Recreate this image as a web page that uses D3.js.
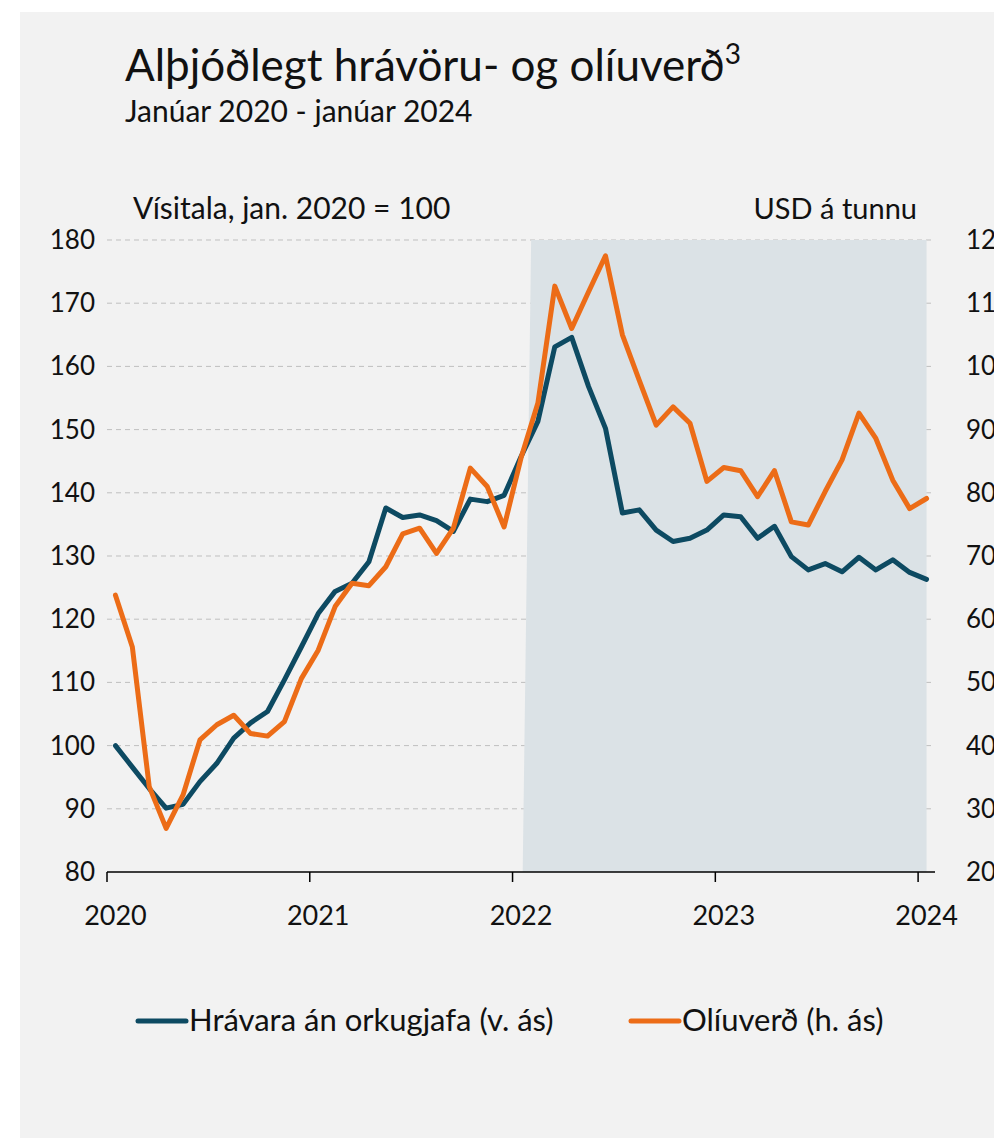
<!DOCTYPE html>
<html>
<head>
<meta charset="utf-8">
<script src="https://cdn.jsdelivr.net/npm/d3@7"></script>
<style>
  html, body { margin: 0; padding: 0; background: #ffffff; }
  svg { display: block; font-family: Lato, "Open Sans", sans-serif; }
</style>
</head>
<body>
<svg id="chart" width="994" height="1138"></svg>
<script>
// monthly, jan 2020 .. jan 2024
const yearLabels = ['2020', '2021', '2022', '2023', '2024'];
const leftTicks = [80, 90, 100, 110, 120, 130, 140, 150, 160, 170, 180];
const rightTicks = [20, 30, 40, 50, 60, 70, 80, 90, 100, 110, 120];

// Hrávara án orkugjafa, vísitala jan. 2020 = 100 (left axis)
const commodityIdx = [
  100.0, 96.6, 93.2, 90.1, 90.7, 94.3, 97.2, 101.2, 103.6, 105.4, 110.4, 115.6,
  120.9, 124.4, 125.7, 129.1, 137.6, 136.1, 136.5, 135.6, 133.9, 139.0, 138.6, 139.6,
  145.7, 151.3, 163.1, 164.6, 156.8, 150.2, 136.8, 137.3, 134.1, 132.3, 132.8, 134.1,
  136.5, 136.2, 132.8, 134.7, 129.9, 127.8, 128.8, 127.5, 129.8, 127.8, 129.4, 127.4,
  126.3
];

// Olíuverð, USD á tunnu (right axis)
const oilPrice = [
  63.8, 55.6, 33.5, 26.9, 32.2, 40.9, 43.3, 44.8, 41.9, 41.5, 43.8, 50.6,
  55.1, 62.0, 65.7, 65.3, 68.3, 73.5, 74.4, 70.4, 74.4, 83.9, 81.0, 74.6,
  85.5, 94.2, 112.7, 106.0, 111.8, 117.5, 105.0, 97.8, 90.7, 93.6, 91.0, 81.8,
  84.0, 83.5, 79.4, 83.5, 75.4, 74.9, 80.2, 85.2, 92.6, 88.6, 82.0, 77.5,
  79.1
];

// shaded period (right-axis units, clipped to plot)
const shadeValues = commodityIdx.map((_, i) => (i < 25 ? 0 : 200));

const months = commodityIdx.map((_, i) => i);

const plot = { left: 107, right: 935, top: 240, bottom: 872 };
const colors = { commodity: '#0d4a62', oil: '#ec6c17', shade: '#dbe2e6', grid: '#bfbfbf' };

const svg = d3.select('#chart');

svg.append('rect')
  .attr('x', 20).attr('y', 12)
  .attr('width', 974).attr('height', 1126)
  .attr('fill', '#f2f2f2');

const x = d3.scalePoint()
  .domain(months)
  .range([plot.left, plot.right])
  .padding(0.5);
const step = x.step();
const yL = d3.scaleLinear().domain([80, 180]).range([plot.bottom, plot.top]);
const yR = d3.scaleLinear().domain([20, 120]).range([plot.bottom, plot.top]);

svg.append('defs').append('clipPath').attr('id', 'plot-clip')
  .append('rect')
  .attr('x', plot.left).attr('y', plot.top)
  .attr('width', plot.right - plot.left).attr('height', plot.bottom - plot.top);

// gridlines
svg.append('g')
  .selectAll('line')
  .data(leftTicks.filter((d) => d > 80))
  .join('line')
  .attr('x1', plot.left).attr('x2', plot.right)
  .attr('y1', (d) => yL(d)).attr('y2', (d) => yL(d))
  .attr('stroke', colors.grid)
  .attr('stroke-width', 1)
  .attr('stroke-dasharray', '5,4');

// shaded area
const shadeData = months.filter((i) => i >= 24);
svg.append('path')
  .datum(shadeData)
  .attr('clip-path', 'url(#plot-clip)')
  .attr('fill', colors.shade)
  .attr('d', d3.area()
    .x((i) => x(i))
    .y0(plot.bottom + 10)
    .y1((i) => yR(shadeValues[i])));

// x axis
const xAxis = svg.append('g');
xAxis.append('line')
  .attr('x1', plot.left).attr('x2', plot.right)
  .attr('y1', plot.bottom).attr('y2', plot.bottom)
  .attr('stroke', '#000').attr('stroke-width', 1.5);

const yearStarts = yearLabels.map((_, k) => k * 12);
xAxis.selectAll('line.tick')
  .data(yearStarts)
  .join('line')
  .attr('class', 'tick')
  .attr('x1', (i) => x(i) - step / 2).attr('x2', (i) => x(i) - step / 2)
  .attr('y1', plot.bottom).attr('y2', plot.bottom + 10)
  .attr('stroke', '#000').attr('stroke-width', 1.5);

xAxis.selectAll('text')
  .data(yearStarts)
  .join('text')
  .attr('x', (i) => x(i))
  .attr('y', plot.bottom + 53)
  .attr('text-anchor', 'middle')
  .attr('font-size', 27)
  .attr('fill', '#111')
  .text((_, k) => yearLabels[k]);

// y axes labels
svg.append('g')
  .selectAll('text')
  .data(leftTicks)
  .join('text')
  .attr('x', 95)
  .attr('y', (d) => yL(d) + 9)
  .attr('text-anchor', 'end')
  .attr('font-size', 26)
  .attr('fill', '#111')
  .text((d) => d);

svg.append('g')
  .selectAll('text')
  .data(rightTicks)
  .join('text')
  .attr('x', 966)
  .attr('y', (d) => yR(d) + 9)
  .attr('text-anchor', 'start')
  .attr('font-size', 26)
  .attr('fill', '#111')
  .text((d) => d);

// lines
const lineL = d3.line().x((d, i) => x(i)).y((d) => yL(d));
const lineR = d3.line().x((d, i) => x(i)).y((d) => yR(d));

svg.append('path')
  .datum(commodityIdx)
  .attr('fill', 'none')
  .attr('stroke', colors.commodity)
  .attr('stroke-width', 5)
  .attr('stroke-linejoin', 'round')
  .attr('stroke-linecap', 'round')
  .attr('d', lineL);

svg.append('path')
  .datum(oilPrice)
  .attr('fill', 'none')
  .attr('stroke', colors.oil)
  .attr('stroke-width', 5)
  .attr('stroke-linejoin', 'round')
  .attr('stroke-linecap', 'round')
  .attr('d', lineR);

// titles
const title = svg.append('text')
  .attr('x', 125).attr('y', 81)
  .attr('font-size', 44)
  .attr('fill', '#111');
title.append('tspan').text('Alþjóðlegt hrávöru- og olíuverð');
title.append('tspan').attr('dy', -17).attr('font-size', 28).text('3');

svg.append('text')
  .attr('x', 125).attr('y', 122)
  .attr('font-size', 30)
  .attr('fill', '#111')
  .text('Janúar 2020 - janúar 2024');

svg.append('text')
  .attr('x', 133).attr('y', 219)
  .attr('font-size', 30)
  .attr('fill', '#111')
  .text('Vísitala, jan. 2020 = 100');

svg.append('text')
  .attr('x', 917).attr('y', 219)
  .attr('text-anchor', 'end')
  .attr('font-size', 29)
  .attr('fill', '#111')
  .text('USD á tunnu');

// legend
const legendItems = [
  { label: 'Hrávara án orkugjafa (v. ás)', color: colors.commodity, x: 138 },
  { label: 'Olíuverð (h. ás)', color: colors.oil, x: 631 },
];
const legend = svg.append('g')
  .selectAll('g')
  .data(legendItems)
  .join('g')
  .attr('transform', (d) => `translate(${d.x}, 1021)`);
legend.append('line')
  .attr('x1', 0).attr('x2', 48)
  .attr('stroke', (d) => d.color)
  .attr('stroke-width', 5)
  .attr('stroke-linecap', 'round');
legend.append('text')
  .attr('x', 51).attr('y', 10)
  .attr('font-size', 31)
  .attr('fill', '#111')
  .text((d) => d.label);
</script>
</body>
</html>
